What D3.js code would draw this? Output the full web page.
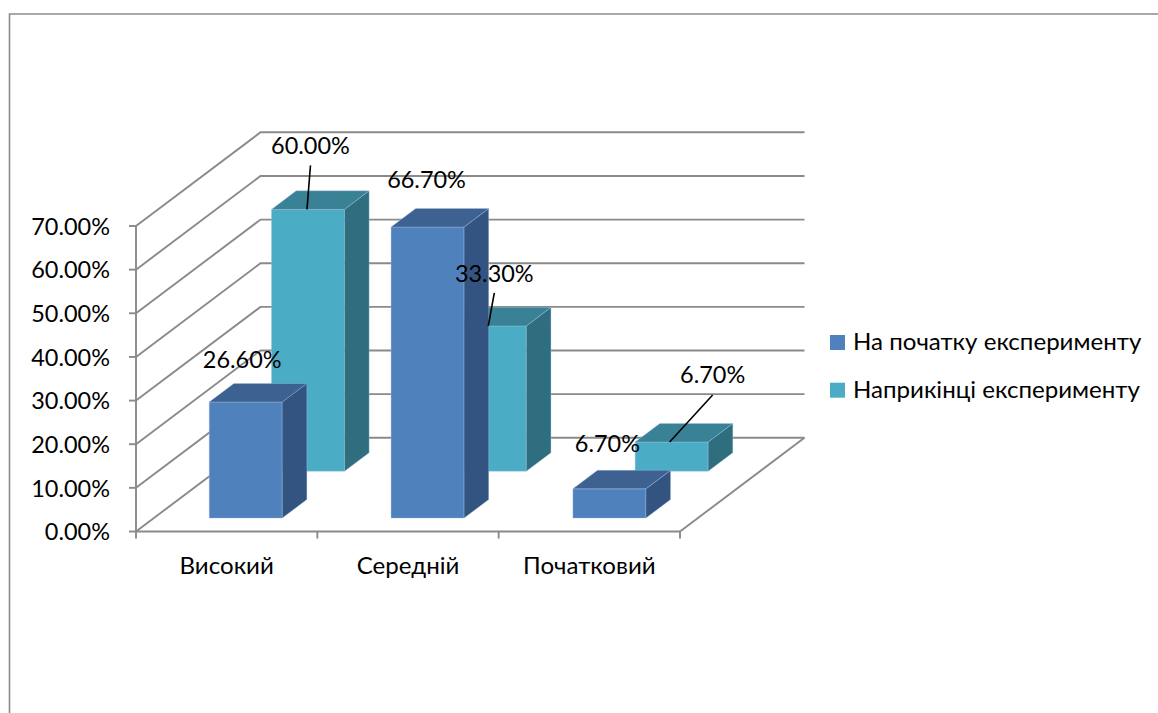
<!DOCTYPE html>
<html>
<head>
<meta charset="utf-8">
<script src="https://cdn.jsdelivr.net/npm/d3@7"></script>
<style>
  html, body { margin: 0; padding: 0; background: #fff; }
  svg { display: block; }
  text { font-family: Lato, "Noto Sans", sans-serif; fill: #000; }
  .axis path, .axis line { display: none; }
</style>
</head>
<body>
<svg id="chart" width="1158" height="713"></svg>
<script>
const categories = ['Високий', 'Середній', 'Початковий'];
const seriesNames = ['На початку експерименту', 'Наприкінці експерименту'];
const startValues = [26.6, 66.7, 6.7];
const endValues = [60.0, 33.3, 6.7];
const yTicks = [0, 10, 20, 30, 40, 50, 60, 70];

// Colours: front, side, top of each series
const palette = [
  { front: '#4f81bd', side: '#335480', top: '#3d6190' },
  { front: '#4bacc6', side: '#2f6e7f', top: '#398296' }
];

// Labels were dragged by hand in the original, so offsets from the bar top
const labelOffsets = [
  [[-3.5, -34], [-1, -39], [-2, -37]],
  [[2.5, -55.7], [4.5, -44], [41, -59]]
];
// Leader lines, as offsets from the bar's top front edge
const leaders = [
  { series: 1, cat: 0, from: [-1, 0], to: [2.5, -44] },
  { series: 1, cat: 1, from: [-1.5, 0], to: [4.5, -33] },
  { series: 1, cat: 2, from: [-2, 0], to: [41, -47] }
];

const fontSize = 23;
// Small horizontal fit, the original text runs a little wider than Lato
const numberStretch = 1.02;
const wordStretch = 1.047;
const gridColor = '#8a8a8a';

const svg = d3.select('#chart');

function stretchText(sel, factor) {
  sel.each(function () {
    d3.select(this)
      .attr('textLength', this.getComputedTextLength() * factor)
      .attr('lengthAdjust', 'spacingAndGlyphs');
  });
}

// Outer frame of the chart area, cut by the page on the right and bottom
svg.append('path')
  .attr('d', 'M9.5,713V14H1158')
  .attr('fill', 'none')
  .attr('stroke', '#8c8c8c')
  .attr('stroke-width', 1.6);

const left = 136, right = 680, bottom = 531.5;
const depthX = 124.5, depthY = 93.7;

const x = d3.scaleBand().domain(categories).range([left, right]);
// Bars run on a very slightly wider pitch than the axis ticks in the original
const barX = d3.scaleBand().domain(categories).range([left + 1, right + 2.5]);
const y = d3.scaleLinear().domain([0, 70]).range([bottom, 226]);

// Projection of a point in chart space: px along the category axis, value, depth 0..1
const project = (px, value, d) => [px + d * depthX, y(value) - d * depthY];
const line = d3.line();

const grid = svg.append('g')
  .attr('fill', 'none')
  .attr('stroke', gridColor)
  .attr('stroke-width', 1.9);

// Walls: diagonal on the left, horizontal at the back
grid.selectAll('.gridline')
  .data(yTicks)
  .enter()
  .append('path')
  .attr('class', 'gridline')
  .attr('d', d => line([project(left, d, 0), project(left, d, 1), project(right, d, 1)]));

// Floor edge on the right, the front axis line and the vertical axis
grid.append('path').attr('d', line([project(right, 0, 0), project(right, 0, 1)]));
grid.append('path').attr('d', line([[left, bottom], [right, bottom]]));
grid.append('path').attr('d', line([[left, y(70)], [left, bottom]]));

// Tick marks
grid.selectAll('.ytick')
  .data(yTicks)
  .enter()
  .append('path')
  .attr('class', 'ytick')
  .attr('d', d => `M${left - 7},${y(d)}H${left}`);
grid.selectAll('.xtick')
  .data([left, ...categories.map(c => x(c) + x.bandwidth())])
  .enter()
  .append('path')
  .attr('class', 'xtick')
  .attr('d', d => `M${d},${bottom}V${bottom + 7}`);

// Axis labels
const yAxis = svg.append('g')
  .attr('class', 'axis')
  .attr('transform', `translate(${left - 26},0)`)
  .call(d3.axisLeft(y).tickValues(yTicks).tickSize(0).tickPadding(0).tickFormat(d => d.toFixed(2) + '%'));
yAxis.selectAll('text').style('font-size', fontSize + 'px').attr('dy', '0.36em').call(stretchText, numberStretch);

const xAxis = svg.append('g')
  .attr('class', 'axis')
  .attr('transform', `translate(0,${bottom + 42.5})`)
  .call(d3.axisBottom(x).tickSize(0).tickPadding(0));
xAxis.selectAll('text').style('font-size', fontSize + 'px').attr('y', 0).attr('dy', 0).call(stretchText, wordStretch);

// Bars: back series first so the front one covers it
const barWidth = 73;
const depthBands = [[0.143, 0.341], [0.643, 0.841]];
const allValues = [startValues, endValues];

function drawBar(g, cat, value, s) {
  const x0 = barX(cat) + (barX.bandwidth() - barWidth) / 2;
  const x1 = x0 + barWidth;
  const [d0, d1] = depthBands[s];
  const c = palette[s];
  const face = (pts, fill) => g.append('path')
    .attr('d', line(pts) + 'Z')
    .attr('fill', fill)
    .attr('stroke', '#a9c6e0')
    .attr('stroke-opacity', 0.45)
    .attr('stroke-width', 0.8);
  face([project(x0, 0, d0), project(x1, 0, d0), project(x1, value, d0), project(x0, value, d0)], c.front);
  face([project(x1, 0, d0), project(x1, 0, d1), project(x1, value, d1), project(x1, value, d0)], c.side);
  face([project(x0, value, d0), project(x1, value, d0), project(x1, value, d1), project(x0, value, d1)], c.top);
}

const bars = svg.append('g');
[1, 0].forEach(s => {
  categories.forEach((cat, i) => drawBar(bars, cat, allValues[s][i], s));
});

// Point at the middle of a bar's top front edge
const topFront = (s, i) => project(barX(categories[i]) + barX.bandwidth() / 2, allValues[s][i], depthBands[s][0]);

// Leader lines and data labels sit above everything
leaders.forEach(l => {
  const p = topFront(l.series, l.cat);
  svg.append('path')
    .attr('d', line([[p[0] + l.from[0], p[1] + l.from[1]], [p[0] + l.to[0], p[1] + l.to[1]]]))
    .attr('stroke', '#000')
    .attr('stroke-width', 1.6);
});

allValues.forEach((values, s) => {
  values.forEach((v, i) => {
    const p = topFront(s, i);
    svg.append('text')
      .attr('x', p[0] + labelOffsets[s][i][0])
      .attr('y', p[1] + labelOffsets[s][i][1])
      .attr('text-anchor', 'middle')
      .style('font-size', fontSize + 'px')
      .text(v.toFixed(2) + '%')
      .call(stretchText, numberStretch);
  });
});

// Legend
const legend = svg.selectAll('.legend')
  .data(seriesNames)
  .enter()
  .append('g')
  .attr('class', 'legend')
  .attr('transform', (d, i) => `translate(830,${335 + i * 47.7})`);
legend.append('rect')
  .attr('width', 15)
  .attr('height', 15)
  .attr('fill', (d, i) => palette[i].front);
legend.append('text')
  .attr('x', 23)
  .attr('y', 15)
  .style('font-size', fontSize + 'px')
  .text(d => d)
  .call(stretchText, wordStretch);
</script>
</body>
</html>
